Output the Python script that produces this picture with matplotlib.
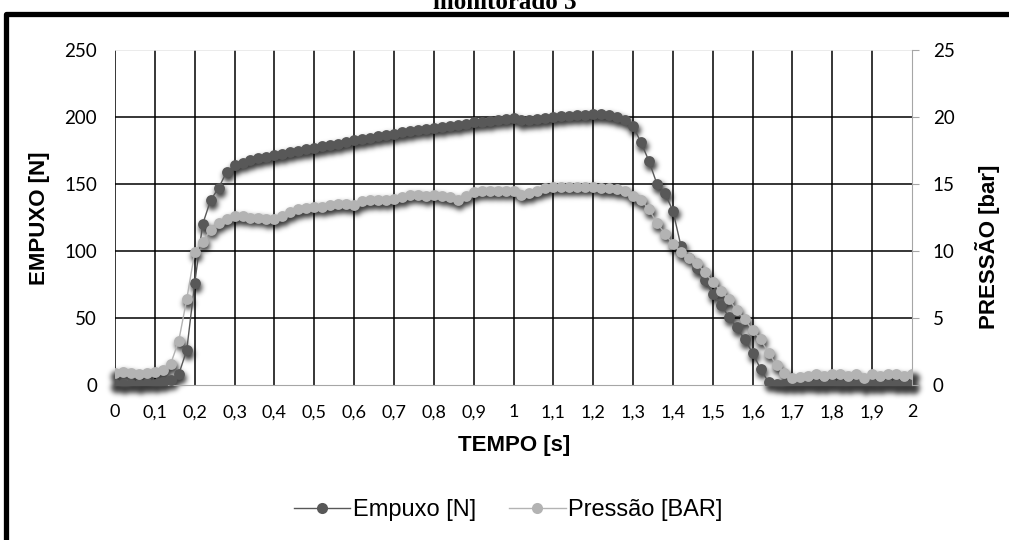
import numpy as np
import matplotlib.pyplot as plt
from matplotlib.lines import Line2D
from matplotlib.patches import Rectangle

# Tempo [s], amostras a cada 0,02 s
tempo = [0.00, 0.02, 0.04, 0.06, 0.08, 0.10, 0.12, 0.14, 0.16, 0.18,
         0.20, 0.22, 0.24, 0.26, 0.28, 0.30, 0.32, 0.34, 0.36, 0.38,
         0.40, 0.42, 0.44, 0.46, 0.48, 0.50, 0.52, 0.54, 0.56, 0.58,
         0.60, 0.62, 0.64, 0.66, 0.68, 0.70, 0.72, 0.74, 0.76, 0.78,
         0.80, 0.82, 0.84, 0.86, 0.88, 0.90, 0.92, 0.94, 0.96, 0.98,
         1.00, 1.02, 1.04, 1.06, 1.08, 1.10, 1.12, 1.14, 1.16, 1.18,
         1.20, 1.22, 1.24, 1.26, 1.28, 1.30, 1.32, 1.34, 1.36, 1.38,
         1.40, 1.42, 1.44, 1.46, 1.48, 1.50, 1.52, 1.54, 1.56, 1.58,
         1.60, 1.62, 1.64, 1.66, 1.68, 1.70, 1.72, 1.74, 1.76, 1.78,
         1.80, 1.82, 1.84, 1.86, 1.88, 1.90, 1.92, 1.94, 1.96, 1.98,
         2.00]

# Empuxo [N]
empuxo = [1.0, 0.5, 1.0, 0.5, 1.5, 1.0, 2.0, 3.5, 8.0, 26.0,
          76.0, 120.0, 138.0, 147.0, 159.0, 164.0, 166.0, 168.0, 169.5, 170.5,
          171.5, 172.5, 174.0, 175.0, 176.0, 177.0, 178.0, 179.0, 180.0, 181.5,
          182.5, 183.5, 184.5, 185.5, 186.5, 187.5, 188.5, 189.5, 190.5, 191.0,
          192.0, 192.5, 193.5, 194.0, 195.0, 196.0, 196.5, 197.0, 198.0, 198.5,
          199.5, 197.5, 198.0, 198.5, 199.0, 200.0, 200.5, 201.0, 201.5, 201.5,
          202.0, 202.0, 201.5, 200.0, 198.0, 193.0, 181.0, 167.0, 150.0, 143.0,
          130.0, 104.0, 95.0, 87.0, 78.0, 68.0, 60.0, 51.0, 43.0, 34.0,
          24.0, 12.0, 2.0, 1.0, 0.5, 0.5, 0.5, 1.0, 0.5, 0.5,
          1.0, 0.5, 0.5, 1.0, 0.0, 0.5, 0.5, 1.0, 0.5, 0.5,
          0.5]

# Pressão [bar]
pressao = [0.9, 1.0, 0.9, 0.8, 0.9, 1.0, 1.1, 1.6, 3.3, 6.4,
           9.9, 10.7, 11.6, 12.1, 12.4, 12.6, 12.6, 12.5, 12.5, 12.4,
           12.4, 12.6, 12.9, 13.1, 13.2, 13.3, 13.3, 13.4, 13.5, 13.5,
           13.4, 13.7, 13.8, 13.8, 13.8, 13.9, 14.0, 14.2, 14.2, 14.1,
           14.2, 14.1, 14.0, 13.8, 14.1, 14.4, 14.5, 14.5, 14.5, 14.5,
           14.5, 14.2, 14.3, 14.5, 14.7, 14.8, 14.8, 14.8, 14.8, 14.8,
           14.8, 14.7, 14.7, 14.6, 14.5, 14.1, 13.8, 13.1, 12.1, 11.3,
           10.5, 9.9, 9.5, 9.1, 8.4, 7.7, 7.0, 6.4, 5.6, 4.9,
           4.1, 3.4, 2.4, 1.5, 0.9, 0.5, 0.6, 0.7, 0.8, 0.7,
           0.8, 0.8, 0.7, 0.8, 0.5, 0.8, 0.7, 0.8, 0.8, 0.7,
           0.8]

x_ticks = [0.0, 0.1, 0.2, 0.3, 0.4, 0.5, 0.6, 0.7, 0.8, 0.9, 1.0,
           1.1, 1.2, 1.3, 1.4, 1.5, 1.6, 1.7, 1.8, 1.9, 2.0]
x_labels = ['0', '0,1', '0,2', '0,3', '0,4', '0,5', '0,6', '0,7', '0,8', '0,9', '1',
            '1,1', '1,2', '1,3', '1,4', '1,5', '1,6', '1,7', '1,8', '1,9', '2']
y_ticks = [0, 50, 100, 150, 200, 250]
y2_ticks = [0, 5, 10, 15, 20, 25]

cor_empuxo = '#585858'
cor_pressao = '#b3b3b3'

W, H = 1009, 540
fig = plt.figure(figsize=(W / 100, H / 100), dpi=100)
ax = fig.add_axes([115 / W, 1 - 385 / H, 797 / W, 335 / H])
ax2 = ax.twinx()

ax.set_xlim(0, 2)
ax.set_ylim(0, 250)
ax2.set_ylim(0, 25)

ax.plot(tempo, empuxo, '-o', color=cor_empuxo, lw=1.0, ms=7.8, mec='none', zorder=3)
ax2.plot(tempo, pressao, '-o', color=cor_pressao, lw=1.0, ms=7.8, mec='none', zorder=3)

# sombra difusa dos marcadores (efeito do Excel)
bb = ax.get_window_extent()
m = 16
x0, x1, y0, y1 = bb.x0 - m, bb.x1 + m, bb.y0 - m, bb.y1 + m
wc, hc = int(round(x1 - x0)), int(round(y1 - y0))
yy, xx = np.mgrid[0:hc, 0:wc]
mask = np.zeros((hc, wc))
pts = np.vstack([ax.transData.transform(np.column_stack([tempo, empuxo])),
                 ax2.transData.transform(np.column_stack([tempo, pressao]))])
for px, py in pts:
    cx, cy = px - x0 + 1.5, y1 - py + 3.5
    mask[(xx - cx) ** 2 + (yy - cy) ** 2 <= 5.8 ** 2] = 1.0
k = np.arange(-9, 10)
g = np.exp(-k ** 2 / (2 * 2.6 ** 2))
g /= g.sum()
blur = np.apply_along_axis(lambda r: np.convolve(r, g, mode='same'), 1, mask)
blur = np.apply_along_axis(lambda c: np.convolve(c, g, mode='same'), 0, blur)
img = np.zeros((hc, wc, 4))
img[..., 3] = np.clip(blur, 0, 1) * 0.78
inv = ax.transData.inverted()
ex0, ey0 = inv.transform((x0, y1 - hc))
ex1, ey1 = inv.transform((x0 + wc, y1))
ax.imshow(img, extent=(ex0, ex1, ey0, ey1), origin='upper', aspect='auto',
          interpolation='nearest', zorder=2, clip_on=False)
ax.set_xlim(0, 2)
ax.set_ylim(0, 250)

ax.set_xticks(x_ticks)
ax.set_xticklabels(x_labels)
ax.set_yticks(y_ticks)
ax2.set_yticks(y2_ticks)

ax.grid(True, color='black', lw=1.1)
ax.set_axisbelow(True)
gx = ax.get_xgridlines()
gx[-1].set_visible(False)
gy = ax.get_ygridlines()
gy[0].set_visible(False)
gy[-1].set_color('#e6e6e6')

for s in ['top', 'left']:
    ax.spines[s].set_visible(False)
    ax2.spines[s].set_visible(False)
ax.spines['right'].set_visible(False)
ax.spines['bottom'].set_color('#a6a6a6')
ax2.spines['bottom'].set_visible(False)
ax2.spines['right'].set_color('#a6a6a6')

fonte_num = 'Lato'
ax.tick_params(axis='x', length=0, pad=14, labelsize=13)
ax.tick_params(axis='y', length=0, pad=13, labelsize=13.5)
ax2.tick_params(axis='y', length=5, color='#a6a6a6', pad=10, labelsize=13.5)
for lab in ax.get_xticklabels() + ax.get_yticklabels() + ax2.get_yticklabels():
    lab.set_fontfamily(fonte_num)

titulo_fonte = dict(family='Liberation Sans', weight='bold', fontsize=16)
fig.text(514 / W, 1 - 446 / H, 'TEMPO [s]', ha='center', va='center', **titulo_fonte)
fig.text(40 / W, 1 - 218 / H, 'EMPUXO [N]', ha='center', va='center', rotation=90, **titulo_fonte)
fig.text(987 / W, 1 - 247 / H, 'PRESSÃO [bar]', ha='center', va='center', rotation=90, **titulo_fonte)

fig.text(0.5, 1 - 9 / H, 'monitorado 3', ha='center', va='baseline',
         family='Liberation Serif', weight='bold', fontsize=18)

# moldura
fig.add_artist(Rectangle((5.5 / W, -0.2), 1.2, 1.2 - 14 / H, transform=fig.transFigure,
                         fill=False, edgecolor='black', lw=3.8, joinstyle='round',
                         clip_on=False))

handles = [Line2D([], [], color=cor_empuxo, lw=1.0, marker='o', ms=8, mec='none'),
           Line2D([], [], color=cor_pressao, lw=1.0, marker='o', ms=8, mec='none')]
fig.legend(handles, ['Empuxo [N]', 'Pressão [BAR]'], loc='center',
           bbox_to_anchor=(508 / W, 1 - 510 / H), ncol=2, frameon=False,
           prop=dict(family='Liberation Sans', size=17), handlelength=2.4,
           handletextpad=0.1, columnspacing=1.4)

fig.savefig('out.png', dpi=100)
